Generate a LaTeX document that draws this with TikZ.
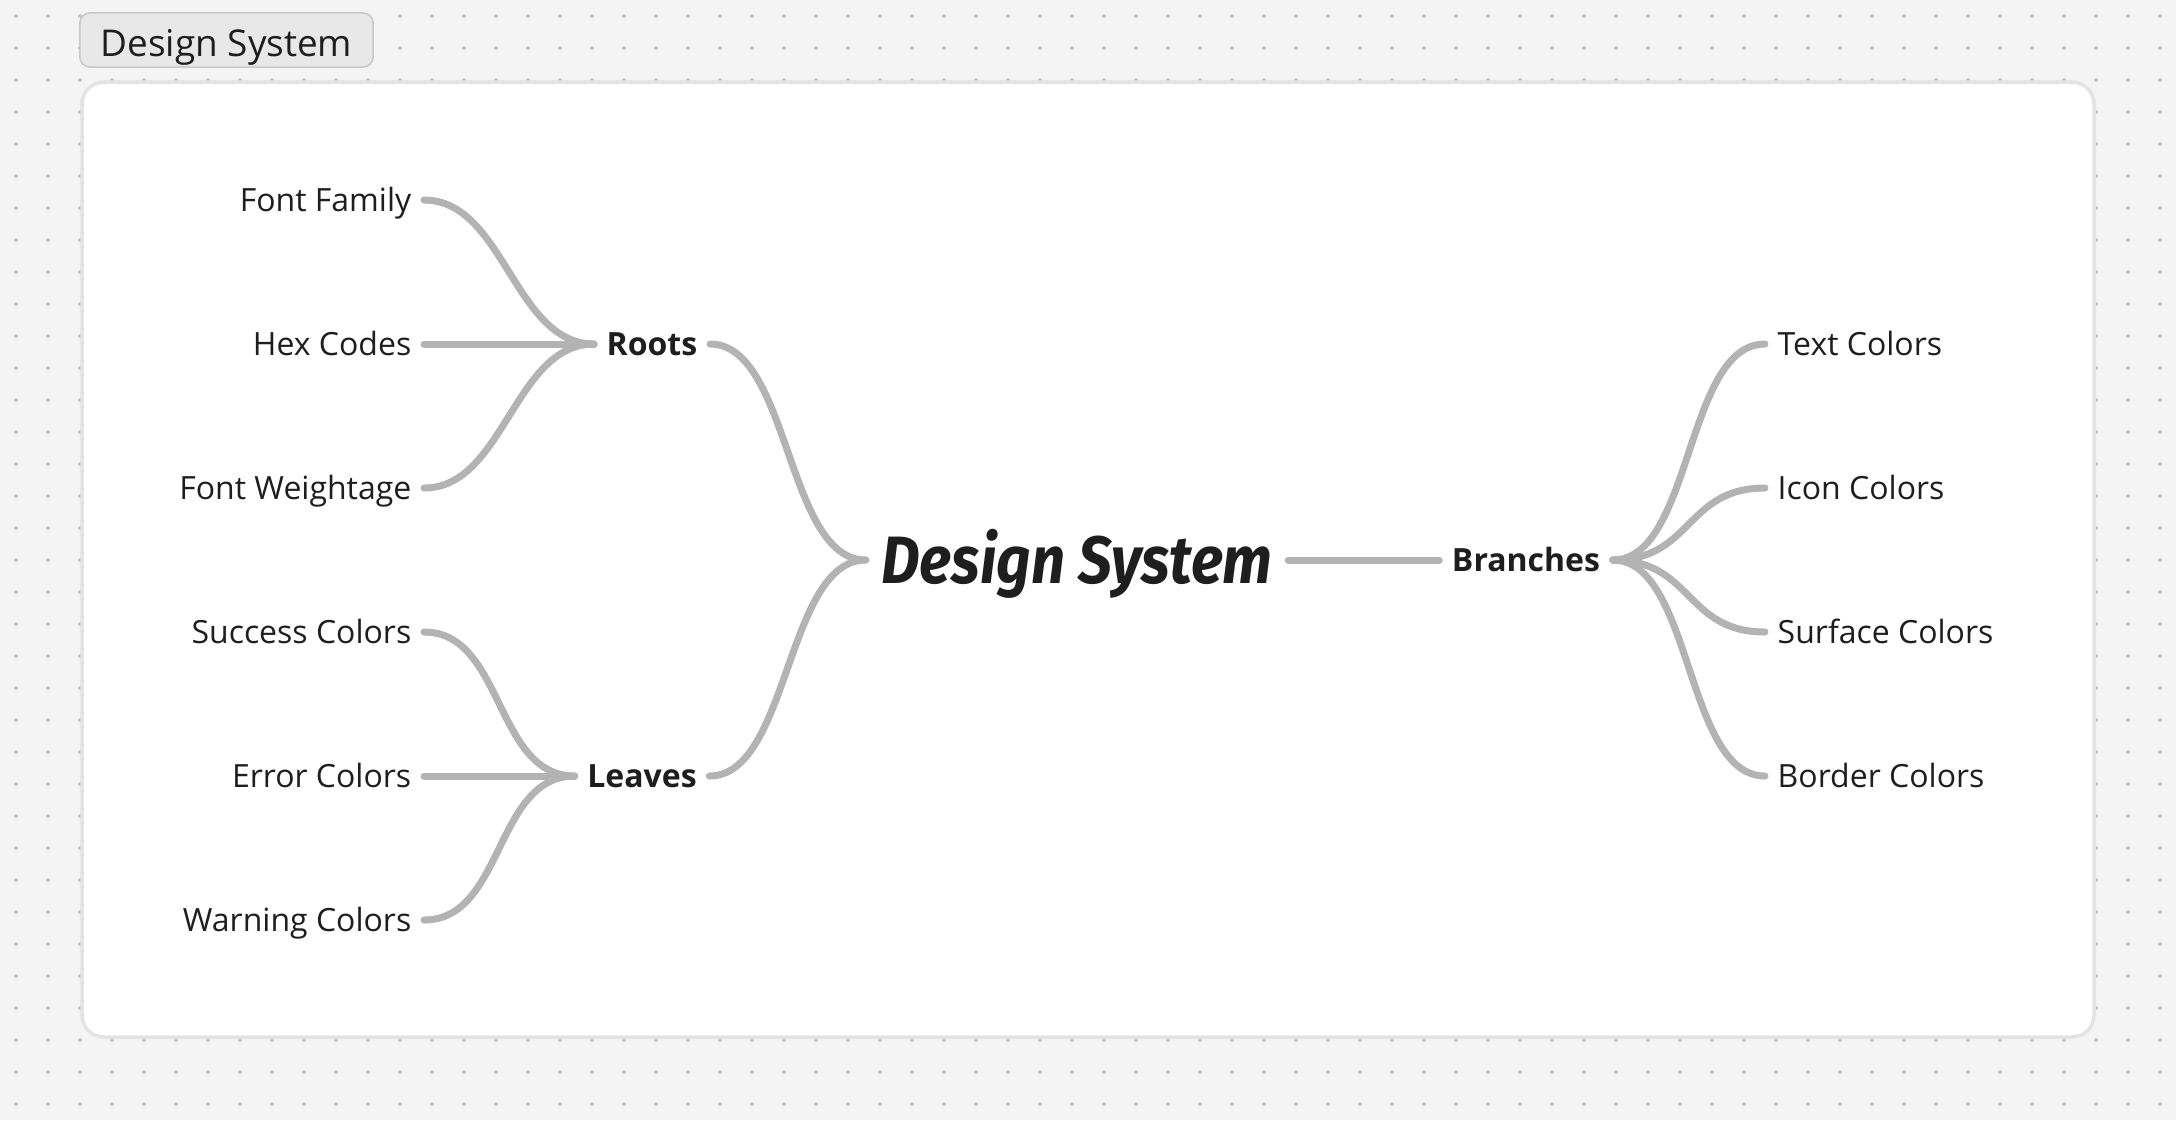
\documentclass[tikz,border=0pt]{standalone}
\usepackage{fontspec}
\usepackage{graphicx}
\setmainfont{Open Sans}
\newfontfamily\handfont{Fira Sans}
\usetikzlibrary{positioning}
\definecolor{canvas}{HTML}{F4F4F4}
\definecolor{dotgray}{HTML}{C6C6C6}
\definecolor{panelline}{HTML}{E3E3E3}
\definecolor{tagfill}{HTML}{E8E8E8}
\definecolor{tagline}{HTML}{C8C8C8}
\definecolor{ink}{HTML}{1E1E1E}
\definecolor{linkgray}{HTML}{B3B3B3}
\tikzset{
  topic/.style={inner xsep=1.2mm, inner ysep=0pt, text height=2.3mm, text depth=0pt,
    text=ink, font=\fontsize{9.1pt}{11pt}\selectfont},
  hub/.style={topic, font=\fontsize{9.1pt}{11pt}\selectfont\bfseries},
  link/.style={draw=linkgray, line width=0.7mm, line cap=round,
    to path={.. controls +(80,0) and +(-80,0) .. (\tikztotarget)}}
}
\begin{document}
\begin{tikzpicture}[x=0.01cm, y=-0.01cm]
  % Canvas with dot grid
  \fill[canvas] (0,0) rectangle (2176,1120);
  \useasboundingbox (0,0) rectangle (2176,1120);
  \foreach \x in {16,48,...,2160} {
    \foreach \y in {16,48,...,1104} {
      \fill[dotgray] (\x,\y) circle (0.2mm);
    }
  }
  % Frame and its tag
  \draw[panelline, line width=0.35mm, fill=white, rounded corners=2.2mm] (82,82) rectangle (2094,1037);
  \node[draw=tagline, fill=tagfill, line width=0.15mm, rounded corners=1mm, minimum width=2.93cm,
    minimum height=0.54cm, inner sep=0pt, text height=3.2mm, text depth=0pt, text=ink,
    font=\fontsize{10.5pt}{12pt}\selectfont] (tag) at (226.5,40) {Design System};
  % Central topic
  \node[inner xsep=1.5mm, inner ysep=0pt, text height=4.6mm, text depth=0pt, text=ink,
    font=\handfont\fontsize{17pt}{20pt}\selectfont\bfseries\itshape] (core) at (1077,560)
    {\scalebox{1}[1.12]{Design System}};
  % Hubs
  \node[hub] (roots) at (652,344) {Roots};
  \node[hub] (leaves) at (642,776) {Leaves};
  \node[hub] (branches) at (1526,560) {Branches};
  % Left leaves
  \foreach \name/\txt [count=\i] in {fam/Font Family, hex/Hex Codes, wgt/Font Weightage} {
    \node[topic, anchor=east] (\name) at (424,56+144*\i) {\txt};
    \draw[link] (\name.east) to (roots.west);
  }
  \foreach \name/\txt [count=\i] in {succ/Success Colors, err/Error Colors, warn/Warning Colors} {
    \node[topic, anchor=east] (\name) at (424,488+144*\i) {\txt};
    \draw[link] (\name.east) to (leaves.west);
  }
  % Right leaves
  \foreach \name/\txt [count=\i] in {txtc/Text Colors, icon/Icon Colors, surf/Surface Colors, bord/Border Colors} {
    \node[topic, anchor=west] (\name) at (1765,200+144*\i) {\txt};
    \draw[link] (branches.east) to (\name.west);
  }
  % Hubs to core
  \draw[link] (roots.east) to (core.west);
  \draw[link] (leaves.east) to (core.west);
  \draw[link] (core.east) -- (branches.west);
\end{tikzpicture}
\end{document}
